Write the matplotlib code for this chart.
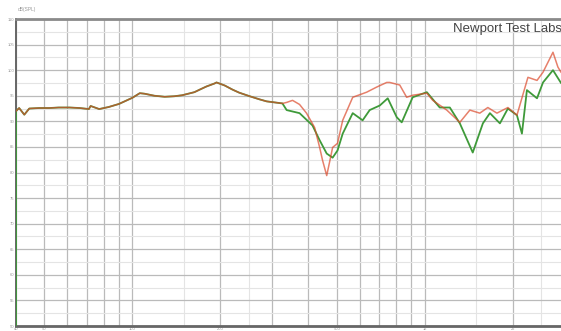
import matplotlib
matplotlib.use('Agg')
import matplotlib.pyplot as plt
from matplotlib.ticker import FixedLocator, FixedFormatter, NullFormatter

plt.rcParams['font.family'] = ['Liberation Sans', 'DejaVu Sans']

# frequency (Hz) / level (dB SPL)
# part where both channels overlap
freq_shared = [40, 41, 42.7, 44.4, 48, 52, 56, 61, 66, 71, 72, 77, 83, 90, 100, 106,
               110, 119, 129, 139, 148, 163, 170, 179, 191, 194, 207, 220, 232, 252,
               272, 288, 326]
db_shared = [92.0, 92.6, 91.3, 92.5, 92.6, 92.6, 92.7, 92.7, 92.6, 92.4, 93.0, 92.4,
             92.8, 93.4, 94.6, 95.5, 95.4, 95.0, 94.8, 94.9, 95.1, 95.7, 96.2, 96.8,
             97.4, 97.6, 97.0, 96.2, 95.6, 94.9, 94.3, 93.9, 93.5]

freq_red = [337, 353, 373, 394, 420, 437, 447, 462, 476, 484, 503, 524, 567, 633, 685,
            741, 759, 821, 867, 909, 1016, 1065, 1189, 1318, 1426, 1542, 1643, 1765,
            1924, 2066, 2253, 2420, 2537, 2744, 2853, 2923, 3016]
db_red = [93.7, 94.1, 93.3, 91.6, 88.8, 84.9, 82.4, 79.4, 82.9, 84.9, 85.7, 90.2, 94.7,
          95.7, 96.7, 97.6, 97.6, 97.1, 94.7, 95.1, 95.5, 94.1, 92.2, 89.8, 92.2, 91.6,
          92.7, 91.6, 92.7, 91.2, 98.6, 98.0, 99.6, 103.5, 100.6, 99.6, 99.0]

freq_green = [337, 373, 413, 437, 462, 484, 503, 524, 567, 613, 648, 702, 747, 802, 834,
              909, 1016, 1125, 1218, 1318, 1459, 1580, 1670, 1807, 1924, 2066, 2149,
              2235, 2420, 2537, 2744, 2923, 3016]
db_green = [92.2, 91.6, 89.2, 86.3, 83.7, 82.9, 84.3, 87.6, 91.6, 90.2, 92.2, 93.1, 94.5,
            90.8, 89.8, 94.7, 95.7, 92.7, 92.7, 89.6, 83.9, 89.6, 91.6, 89.6, 92.5, 91.2,
            87.6, 96.1, 94.5, 97.6, 100.0, 97.5, 96.8]

xgrid = [50, 60, 70, 80, 90, 100, 200, 300, 400, 500, 600, 700, 800, 900, 1000, 2000, 3000]
xgrid_light = [150, 250, 1500, 2500]
xlabels = {40: '40', 50: '50', 100: '100', 200: '200', 500: '500', 1000: '1k', 2000: '2k'}
ylevels = list(range(50, 111, 5))

W, H = 561, 331
fig = plt.figure(figsize=(W / 100, H / 100), dpi=100)
x0, x1 = 16, 564.3
y0, y1 = 19, 326
ax = fig.add_axes([x0 / W, (H - y1) / H, (x1 - x0) / W, (y1 - y0) / H])

ax.set_xscale('log')
ax.set_xlim(40, 3000)
ax.set_ylim(50, 110)

# green starts from the bottom of the scale
ax.plot([40] + freq_shared + freq_green, [50] + db_shared + db_green,
        color='#3f9a3a', lw=1.3, zorder=3)
ax.plot(freq_shared + freq_red, db_shared + db_red,
        color='#dc4a2c', lw=1.1, alpha=0.7, zorder=4)

xt = [40] + xgrid
ax.xaxis.set_major_locator(FixedLocator(xt))
ax.xaxis.set_major_formatter(FixedFormatter([xlabels.get(v, '') for v in xt]))
ax.xaxis.set_minor_locator(FixedLocator(xgrid_light))
ax.xaxis.set_minor_formatter(NullFormatter())

ax.set_yticks(ylevels)
ax.set_yticklabels([str(v) for v in ylevels])
ax.set_yticks([v + 2.5 for v in ylevels[:-1]], minor=True)

ax.grid(True, which='major', color='#bababa', lw=0.9, zorder=0)
ax.grid(True, which='minor', color='#e4e4e4', lw=0.8, zorder=0)
ax.set_axisbelow(True)

ax.tick_params(which='both', length=0, labelsize=3, labelcolor='#999999', pad=1)
ax.tick_params(axis='x', pad=0.4)

for s in ['left', 'bottom', 'top']:
    ax.spines[s].set_color('#666666')
ax.spines['left'].set_linewidth(1.4)
ax.spines['bottom'].set_linewidth(2)
ax.spines['top'].set_color('#8a8a8a')
ax.spines['top'].set_linewidth(2)
ax.spines['right'].set_visible(False)

fig.text(18 / W, 1 - 10 / H, 'dB(SPL)', fontsize=3.5, color='#999999', va='center')
fig.text(453 / W, 1 - 29 / H, 'Newport Test Labs', fontsize=9.5, color='#444444',
         va='center', ha='left', clip_on=True)

fig.savefig('out.png', dpi=100, facecolor='white')
